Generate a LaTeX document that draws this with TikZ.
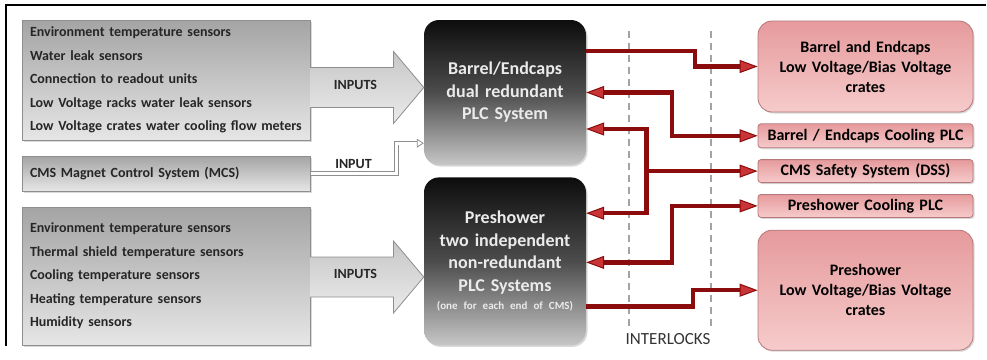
\documentclass[tikz,border=0pt]{standalone}
\usepackage{fontspec}
\setmainfont{Carlito}
\usepackage{tikz}
\usetikzlibrary{arrows.meta,positioning,calc,shadows}
\definecolor{CGrey}{HTML}{8E8E8E}
\definecolor{CGreyTop}{HTML}{A4A4A4}
\definecolor{CGreyBot}{HTML}{E6E6E6}
\definecolor{CPinkTop}{HTML}{E69A9C}
\definecolor{CPinkBot}{HTML}{F6CBCB}
\definecolor{CPinkEdge}{HTML}{B5777A}
\definecolor{CRed}{HTML}{8A0C0C}
\definecolor{CRedTip}{HTML}{C93436}
\definecolor{CDash}{HTML}{A3A3A3}

\begin{document}
\begin{tikzpicture}[x=1pt,y=-1pt,
  sens/.style={draw=CGrey,line width=1pt,top color=CGreyTop,bottom color=CGreyBot,
    minimum width=288pt,text width=272pt,inner sep=0pt,align=left,
    font=\bfseries\fontsize{14}{23.5}\selectfont,text=black!85,
    drop shadow={shadow xshift=1.5pt,shadow yshift=-1.5pt,opacity=0.3}},
  plc/.style={rounded corners=15pt,top color=black!95,bottom color=black!22,
    middle color=black!70,minimum width=162pt,minimum height=145pt,
    text width=152pt,inner sep=0pt,align=center,text=white!92!black,
    font=\bfseries\fontsize{18}{22.5}\selectfont,
    drop shadow={shadow xshift=1.5pt,shadow yshift=-1.5pt,opacity=0.3}},
  crate/.style={draw=CPinkEdge,line width=0.8pt,top color=CPinkTop,bottom color=CPinkBot,
    minimum width=215pt,text width=205pt,inner sep=0pt,align=center,
    font=\bfseries\fontsize{16}{20}\selectfont,
    drop shadow={shadow xshift=1.5pt,shadow yshift=-1.5pt,opacity=0.3}},
  fat/.style={draw=CGrey,line width=0.8pt,top color=black!22,bottom color=black!8},
  feed/.style={draw=CGrey,line width=0.8pt,double=white,double distance=2.6pt,
    -{Triangle[open,length=7pt,width=9pt]}},
  ilk/.style={draw=CRed,line width=4.5pt},
  ilkTip/.tip={Triangle[length=18pt,width=13pt,line width=1pt,fill=CRedTip]},
  guide/.style={draw=CDash,line width=1.2pt,dash pattern=on 7pt off 5pt},
  lbl/.style={font=\bfseries\fontsize{14}{16}\selectfont,text=black!85}
]
  \useasboundingbox (0,0) rectangle (987,359);
  \draw[line width=2.2pt] (986,5) -- (6,5) -- (6,346);

  % sensor lists on the left
  \node[sens,minimum height=120pt] (sensA) at (166,80) {Environment temperature sensors\\
    Water leak sensors\\Connection to readout units\\
    Low Voltage racks water leak sensors\\Low Voltage crates water cooling flow meters};
  \node[sens,minimum height=35pt,below=15pt of sensA] (mcs) {CMS Magnet Control System (MCS)};
  \node[sens,minimum height=138pt,below=15pt of mcs] (sensC) {Environment temperature sensors\\
    Thermal shield temperature sensors\\Cooling temperature sensors\\
    Heating temperature sensors\\Humidity sensors};

  % the two PLC systems
  \node[plc] (plcA) at (505,92.5) {Barrel/Endcaps\\dual redundant\\PLC System};
  \node[plc,minimum height=168pt,below=12pt of plcA] (plcB) {Preshower\\two independent\\
    non-redundant\\PLC Systems\\[-4pt]{\fontsize{11}{13}\selectfont (one for each end of CMS)}};

  % interlocked systems on the right
  \node[crate,rounded corners=14pt,minimum height=91pt] (lvA) at (865.5,66.5)
    {Barrel and Endcaps\\Low Voltage/Bias Voltage\\crates};
  \node[crate,rounded corners=3pt,minimum height=24pt,below=11pt of lvA] (coolA)
    {Barrel / Endcaps Cooling PLC};
  \node[crate,rounded corners=3pt,minimum height=23pt,below=11pt of coolA] (dss)
    {CMS Safety System (DSS)};
  \node[crate,rounded corners=3pt,minimum height=23pt,below=11pt of dss] (coolB)
    {Preshower Cooling PLC};
  \node[crate,rounded corners=14pt,minimum height=120pt,below=12pt of coolB] (lvB)
    {Preshower\\Low Voltage/Bias Voltage\\crates};

  % inputs
  \foreach \src/\dst/\dy in {sensA/plcA/7.5,sensC/plcB/1}{
    \coordinate (ax) at ($(\src.east)+(0,\dy)$);
    \draw[fat] ($(ax)+(0,-20)$) -- ($(ax)+(83,-20)$) -- ($(ax)+(83,-36)$)
      -- (\dst.west |- ax) -- ($(ax)+(83,36)$) -- ($(ax)+(83,20)$) -- ($(ax)+(0,20)$);
    \node[lbl] at ($(ax)+(45,-3)$) {INPUTS};
  }
  \draw[feed] (mcs.east) -- node[lbl,above=1pt] {INPUT} ++(86,0)
    |- ($(plcA.south west)+(0,-22)$);

  % interlock zone
  \draw[guide] (629,31) -- (629,328);
  \draw[guide] (711,31) -- (711,328);
  \node[font=\fontsize{17}{20}\selectfont,text=black!80] (zone) at (668,339) {INTERLOCKS};

  % interlock lines
  \draw[ilk,-ilkTip] ($(plcA.north east)+(0,31)$) -- ++(109,0) |- (lvA.west);
  \draw[ilk,ilkTip-ilkTip] (plcA.east) -- ++(86,0) |- (coolA.west);
  \draw[ilk,ilkTip-ilkTip] ($(plcA.east)+(0,36.5)$) -| ($(dss.west)+(-111,0)$)
    |- ($(plcB.north east)+(0,36)$);
  \draw[ilk,-ilkTip] ($(dss.west)+(-111,0)$) -- (dss.west);
  \draw[ilk,ilkTip-ilkTip] ($(plcB.east)+(0,1)$) -- ++(86,0) |- (coolB.west);
  \draw[ilk,-ilkTip] ($(plcB.south east)+(0,-39)$) -- ++(107,0) |- (lvB.west);
\end{tikzpicture}
\end{document}
